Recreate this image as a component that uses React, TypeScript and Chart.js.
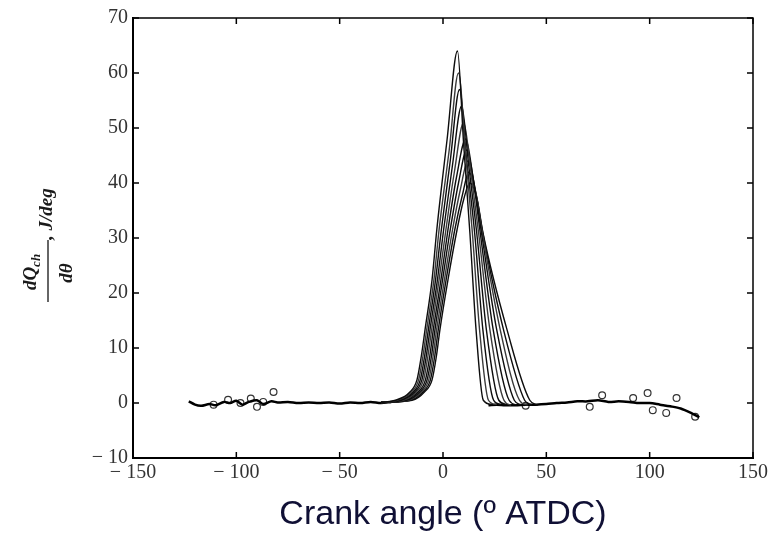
import React, { useEffect, useRef } from "react";
import { Chart, registerables } from "chart.js";

Chart.register(...registerables);

// ---- data ----
const xTickValues = [-150, -100, -50, 0, 50, 100, 150];
const yTickValues = [-10, 0, 10, 20, 30, 40, 50, 60, 70];

const xTitle = "Crank angle (º ATDC)";

// heat-release peaks of the individual runs (angle, dQ/dθ)
const peakRunAngles: number[][] = [
  [-30, -23, -16, -12.6, -10.5, -8.7, -5.3, -3, 2, 7, 10, 13, 16, 19.5, 24],
  [-30, -22.1, -15.2, -11.8, -9.7, -7.9, -4.4, -1.9, 3, 7.5, 11, 14.2, 17.7, 22, 26],
  [-30, -21.2, -14.4, -11, -8.9, -7.1, -3.6, -0.8, 3.5, 8, 11.5, 15.3, 19.3, 24.5, 28],
  [-30, -20.3, -13.7, -10.2, -8.1, -6.3, -2.7, 0.3, 4.5, 9, 12.5, 16.3, 21, 27, 31],
  [-30, -19.4, -12.9, -9.4, -7.3, -5.5, -1.9, 1.4, 5.5, 10, 13.5, 17.2, 22.7, 29.5, 33],
  [-30, -18.6, -12.1, -8.5, -6.4, -4.7, -1, 2.4, 6.5, 11, 14.5, 18, 24.3, 32, 36],
  [-30, -17.7, -11.3, -7.7, -5.6, -3.9, -0.2, 3.5, 7.5, 11.5, 15, 18.6, 26, 34.5, 38],
  [-30, -16.8, -10.6, -6.9, -4.8, -3.1, 0.7, 4.6, 8.5, 12, 15.5, 19, 27.7, 37, 41],
  [-30, -15.9, -9.8, -6.1, -4, -2.3, 1.5, 5.7, 9.5, 12.5, 16, 19.2, 29.3, 39.5, 43],
  [-30, -15, -9, -5.3, -3.2, -1.5, 2.4, 6.8, 10, 13, 16.5, 19.3, 31, 42, 46],
];
const peakRunValues: number[][] = [
  [0.1, 0.5, 2, 4.2, 8.5, 13.3, 22.4, 31.5, 48, 64, 47, 31, 13.3, 0.5, -0.3],
  [0.1, 0.5, 2, 4.2, 8.5, 13.3, 22.4, 31.5, 46, 60, 45, 31, 13.3, 0.5, -0.3],
  [0.1, 0.5, 2, 4.2, 8.5, 13.3, 22.4, 31.5, 44, 57, 44, 31, 13.3, 0.5, -0.3],
  [0.1, 0.5, 2, 4.2, 8.5, 13.3, 22.4, 31.5, 43, 54, 43, 31, 13.3, 0.5, -0.3],
  [0.1, 0.5, 2, 4.2, 8.5, 13.3, 22.4, 31.5, 42, 51, 42, 31, 13.3, 0.5, -0.4],
  [0.1, 0.5, 2, 4.2, 8.5, 13.3, 22.4, 31.5, 41, 48, 41, 31, 13.3, 0.5, -0.4],
  [0.1, 0.5, 2, 4.2, 8.5, 13.3, 22.4, 31.5, 40, 46, 40, 31, 13.3, 0.5, -0.4],
  [0.1, 0.5, 2, 4.2, 8.5, 13.3, 22.4, 31.5, 39, 44, 39, 31, 13.3, 0.5, -0.4],
  [0.1, 0.5, 2, 4.2, 8.5, 13.3, 22.4, 31.5, 38, 42, 38, 31, 13.3, 0.5, -0.4],
  [0.1, 0.5, 2, 4.2, 8.5, 13.3, 22.4, 31.5, 37, 40, 37, 31, 13.3, 0.5, -0.4],
];

// common noisy baseline before and after combustion
const baseLeftAngles = [-123, -120, -117, -113, -110, -106, -103, -100, -97, -94, -90, -87, -83, -80, -75, -70, -65, -60, -55, -50, -45, -40, -35, -30, -25];
const baseLeftValues = [0.3, -0.3, -0.5, -0.2, -0.4, 0.2, 0, 0.4, -0.3, 0.2, 0.5, -0.2, 0.3, 0.1, 0.2, 0, 0.1, 0, 0.1, -0.1, 0.1, 0, 0.2, 0, 0.2];
const baseRightAngles = [22, 26, 30, 35, 40, 45, 50, 55, 60, 65, 70, 75, 80, 85, 90, 95, 100, 105, 110, 115, 120, 124];
const baseRightValues = [-0.4, -0.3, -0.4, -0.4, -0.3, -0.3, -0.2, 0, 0.1, 0.3, 0.3, 0.5, 0.2, 0.3, 0.2, 0, 0, -0.3, -0.6, -1, -1.8, -2.6];

// measured points (open circles)
const circleAngles = [-111, -104, -98, -93, -90, -87, -82, 40, 71, 77, 92, 99, 101.5, 108, 113, 122];
const circleValues = [-0.3, 0.6, 0, 0.8, -0.7, 0.2, 2, -0.5, -0.7, 1.4, 0.9, 1.8, -1.3, -1.8, 0.9, -2.5];

const fmt = (v: number) => (v < 0 ? "\u2212 " + Math.abs(v) : String(v));

const framePlugin = {
  id: "frameAndLabel",
  afterDraw(chart: any) {
    const { ctx, chartArea } = chart;
    const { left, right, top, bottom } = chartArea;
    const xs = chart.scales.x;
    const ys = chart.scales.y;
    ctx.save();
    ctx.strokeStyle = "#000";
    ctx.lineWidth = 1.5;
    ctx.strokeRect(left, top, right - left, bottom - top);
    ctx.lineWidth = 1.5;
    ctx.beginPath();
    xTickValues.forEach((v) => {
      const p = xs.getPixelForValue(v);
      ctx.moveTo(p, bottom);
      ctx.lineTo(p, bottom - 6);
      ctx.moveTo(p, top);
      ctx.lineTo(p, top + 6);
    });
    yTickValues.forEach((v) => {
      const p = ys.getPixelForValue(v);
      ctx.moveTo(left, p);
      ctx.lineTo(left + 6, p);
      ctx.moveTo(right, p);
      ctx.lineTo(right - 6, p);
    });
    ctx.stroke();

    // rotated y-axis label: dQch/dθ , J/deg
    ctx.rotate(-Math.PI / 2);
    ctx.fillStyle = "#1a1a1a";
    ctx.textBaseline = "alphabetic";
    ctx.textAlign = "left";
    const mainFont = 'italic bold 19px "Liberation Serif", "Times New Roman", serif';
    const subFont = 'italic bold 13px "Liberation Serif", "Times New Roman", serif';
    ctx.font = mainFont;
    const wm = ctx.measureText("dQ").width;
    ctx.font = subFont;
    const ws = ctx.measureText("ch").width;
    const start = -272 - (wm + ws) / 2;
    ctx.font = mainFont;
    ctx.fillText("dQ", start, 36);
    ctx.font = subFont;
    ctx.fillText("ch", start + wm, 40);
    ctx.strokeStyle = "#333";
    ctx.lineWidth = 1.5;
    ctx.beginPath();
    ctx.moveTo(-302, 48);
    ctx.lineTo(-240, 48);
    ctx.stroke();
    ctx.font = mainFont;
    ctx.textAlign = "center";
    ctx.fillText("dθ", -273, 72);
    ctx.textAlign = "left";
    ctx.fillText(", J/deg", -240, 52);
    ctx.restore();
  },
};

export default function App() {
  const ref = useRef<HTMLCanvasElement | null>(null);

  useEffect(() => {
    if (!ref.current) return;
    const datasets: any[] = [];
    peakRunAngles.forEach((angles, i) => {
      datasets.push({
        data: angles.map((a, j) => ({ x: a, y: peakRunValues[i][j] })),
        borderColor: i % 3 === 1 ? "#3a3a3a" : "#0d0d0d",
        borderWidth: 1.4,
        pointRadius: 0,
        fill: false,
        cubicInterpolationMode: "monotone",
      });
    });
    datasets.push({
      data: baseLeftAngles.map((a, j) => ({ x: a, y: baseLeftValues[j] })),
      borderColor: "#000",
      borderWidth: 2.5,
      pointRadius: 0,
      fill: false,
      tension: 0.3,
    });
    datasets.push({
      data: baseRightAngles.map((a, j) => ({ x: a, y: baseRightValues[j] })),
      borderColor: "#000",
      borderWidth: 2.5,
      pointRadius: 0,
      fill: false,
      tension: 0.3,
    });
    datasets.push({
      data: circleAngles.map((a, j) => ({ x: a, y: circleValues[j] })),
      showLine: false,
      pointRadius: 3.4,
      pointBorderWidth: 1.2,
      pointBorderColor: "#333",
      pointBackgroundColor: "rgba(255,255,255,0)",
      borderColor: "#333",
    });

    const chart = new Chart(ref.current, {
      type: "line",
      data: { datasets },
      options: {
        responsive: false,
        animation: false,
        layout: { padding: { top: 18, right: 24, left: 0, bottom: 0 } },
        plugins: { legend: { display: false }, tooltip: { enabled: false } },
        scales: {
          x: {
            type: "linear",
            min: -150,
            max: 150,
            afterFit: (s: any) => {
              s.height = 77;
            },
            afterBuildTicks: (s: any) => {
              s.ticks = xTickValues.map((v) => ({ value: v }));
            },
            ticks: {
              callback: (v: any) => fmt(Number(v)),
              font: { family: '"Liberation Serif", "Times New Roman", serif', size: 20 },
              color: "#333",
              padding: 3,
              maxRotation: 0,
              autoSkip: false,
            },
            grid: { display: false, drawTicks: false },
            border: { display: true, color: "#000", width: 2 },
            title: {
              display: true,
              text: xTitle,
              font: { family: '"Liberation Sans", Arial, sans-serif', size: 34, lineHeight: 1.2 },
              color: "#101035",
              padding: { top: 0, bottom: 0 },
            },
          },
          y: {
            type: "linear",
            min: -10,
            max: 70,
            afterFit: (s: any) => {
              s.width = 133;
            },
            afterBuildTicks: (s: any) => {
              s.ticks = yTickValues.map((v) => ({ value: v }));
            },
            ticks: {
              callback: (v: any) => fmt(Number(v)),
              font: { family: '"Liberation Serif", "Times New Roman", serif', size: 20 },
              color: "#333",
              padding: 5,
              autoSkip: false,
            },
            grid: { display: false, drawTicks: false },
            border: { display: true, color: "#000", width: 2 },
          },
        },
      } as any,
      plugins: [framePlugin],
    });
    return () => chart.destroy();
  }, []);

  return (
    <div style={{ position: "absolute", left: 0, top: 0, width: 777, height: 535, background: "#fff" }}>
      <canvas ref={ref} width={777} height={535} style={{ display: "block" }} />
    </div>
  );
}
